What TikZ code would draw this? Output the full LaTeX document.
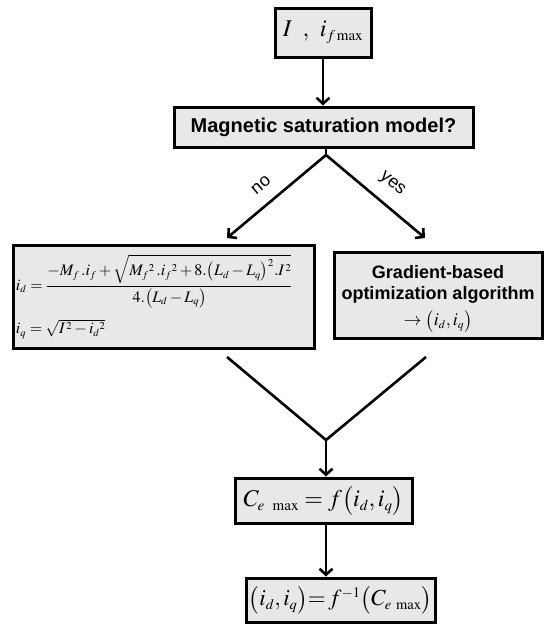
\documentclass[tikz,border=0pt]{standalone}
\usepackage{amsmath}
\usepackage{mathptmx}
\usepackage[no-math]{fontspec}
\setmainfont{Liberation Sans}
\usetikzlibrary{arrows.meta}

% compact scripts for the large formula sizes
\DeclareMathSizes{24}{24}{15}{11}
\DeclareMathSizes{23}{23}{14.5}{10.5}
\DeclareMathSizes{18}{18}{11.5}{8}
\DeclareMathSizes{16}{16}{10.5}{7.5}

\definecolor{boxgray}{RGB}{232,232,232}

\begin{document}
\begin{tikzpicture}[x=1pt,y=-1pt,
  box/.style={draw, line width=3pt, fill=boxgray, inner sep=0pt, align=center},
  flow/.style={line width=2.6pt, -{Straight Barb[length=6pt,width=13pt]}},
  seg/.style={line width=2.6pt},
  branchlabel/.style={font=\fontsize{18}{20}\selectfont, inner sep=0pt}]
\useasboundingbox (0,0) rectangle (544,624);

% inputs
\node[box, minimum width=96pt, minimum height=49pt, font=\fontsize{24}{28}\selectfont]
  (inputs) at (323,32.5) {$I\;\;,\;\,i_{f\,\mathrm{max}}$};

% decision
\node[box, minimum width=299pt, minimum height=40pt, font=\fontsize{20}{23}\selectfont\bfseries]
  (model) at (323.5,127) {Magnetic saturation model?};

% analytic solution (no saturation)
\node[box, minimum width=301pt, minimum height=103pt, text width=295pt, align=left,
  font=\fontsize{16}{18}\selectfont]
  (exact) at (163.5,296.5)
  {\mbox{$\displaystyle i_d=\frac{-M_f\,.i_f+\sqrt{M_f{}^{2}\,.i_f{}^{2}+8.\bigl(L_d-L_q\bigr)^2.I^{\,2}}}{4.\bigl(L_d-L_q\bigr)}$}\\[11pt]
   \mbox{$i_q=\sqrt{I^{\,2}-i_d{}^{2}}$}};

% numerical solution (saturation)
\node[box, minimum width=208pt, minimum height=86pt] (optim) at (438,295) {};
\node[font=\fontsize{18}{21}\selectfont, align=center, inner sep=0pt]
  (optimtext) at ([yshift=-4pt]optim.center)
  {\textbf{Gradient-based}\\\textbf{optimization algorithm}\\[5pt]$\rightarrow\bigl(i_d,i_q\bigr)$};

% maximum torque
\node[box, minimum width=177pt, minimum height=45pt, font=\fontsize{24}{30}\selectfont]
  (torque) at (323.5,500.5) {$C_{e\ \max}=f\bigl(i_d,i_q\bigr)$};

% inverse map
\node[box, minimum width=189pt, minimum height=44pt, font=\fontsize{23}{30}\selectfont]
  (result) at (340.5,600) {$\bigl(i_d,i_q\bigr){=}\,f^{-1}\bigl(C_{e\;\max}\bigr)$};

% routing points
\coordinate (fork) at (326,155);
\coordinate (noend) at (227,238);
\coordinate (yesend) at (425,238);
\coordinate (noout) at (227,357);
\coordinate (yesout) at (426,357);
\coordinate (join) at (326,440);

\draw[flow] (inputs.south) -- (inputs.south |- model.north);
\draw[seg] (model.south -| fork) -- (fork);
\draw[flow] (fork) -- (noend);
\draw[flow] (fork) -- (yesend);
\node[branchlabel, rotate=39.6] (nolabel) at (261,185) {no};
\node[branchlabel, rotate=-39.6] (yeslabel) at (392,184) {yes};

\draw[seg] (noout) -- (join);
\draw[seg] (yesout) -- (join);
\draw[flow] (join) -- (join |- torque.north);
\draw[flow] (torque.south -| join) -- (join |- result.north);
\end{tikzpicture}
\end{document}
